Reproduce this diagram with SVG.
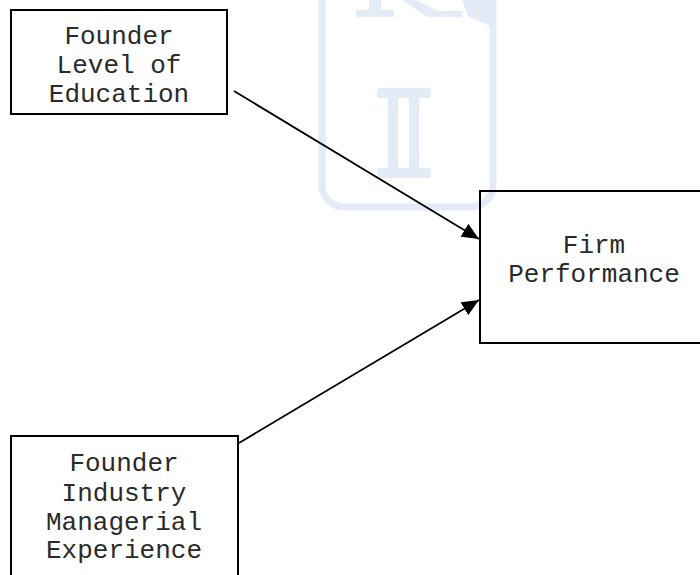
<svg xmlns="http://www.w3.org/2000/svg" width="700" height="575" viewBox="0 0 700 575">
  <style>
    .box { fill: none; stroke: #000; stroke-width: 2; }
    .label { font-family: "Liberation Mono", "Courier New", monospace; font-size: 26px; fill: #2a2a2a; text-anchor: middle; }
    .edge { stroke: #000; stroke-width: 1.8; fill: none; marker-end: url(#arrow); }
    .mark { fill: #e2ebf6; }
  </style>
  <defs>
    <marker id="arrow" markerUnits="userSpaceOnUse" markerWidth="19" markerHeight="15" refX="17" refY="7.5" orient="auto">
      <path d="M0,0 L17,7.5 L0,15 Z" fill="#000"/>
    </marker>
  </defs>

  <rect width="700" height="575" fill="#fff"/>

  <!-- faint background emblem -->
  <g id="emblem">
    <rect x="322" y="-40" width="171" height="247" rx="22" fill="none" stroke="#e2ebf6" stroke-width="7"/>
    <rect class="mark" x="356" y="10" width="38" height="7"/>
    <rect class="mark" x="369" y="0" width="12" height="12"/>
    <polygon class="mark" points="402,0 416,0 438,11 462,11 462,17 428,17"/>
    <polygon class="mark" points="462,0 490,0 490,26 468,16"/>
    <rect class="mark" x="377" y="88" width="54" height="10" rx="3"/>
    <rect class="mark" x="377" y="168" width="54" height="10" rx="3"/>
    <rect class="mark" x="388" y="96" width="10" height="74"/>
    <rect class="mark" x="409" y="96" width="10" height="74"/>
  </g>

  <g id="connectors">
    <line class="edge" x1="234" y1="91" x2="479" y2="239"/>
    <line class="edge" x1="239" y1="443" x2="479" y2="300"/>
  </g>

  <g id="education">
    <rect class="box" x="11" y="10" width="216" height="104"/>
    <text class="label" x="119" y="44">Founder</text>
    <text class="label" x="119" y="73">Level of</text>
    <text class="label" x="119" y="102">Education</text>
  </g>

  <g id="performance">
    <rect class="box" x="480" y="191" width="230" height="152"/>
    <text class="label" x="594" y="253">Firm</text>
    <text class="label" x="594" y="282">Performance</text>
  </g>

  <g id="experience">
    <rect class="box" x="11" y="436" width="227" height="160"/>
    <text class="label" x="124" y="471">Founder</text>
    <text class="label" x="124" y="501">Industry</text>
    <text class="label" x="124" y="530">Managerial</text>
    <text class="label" x="124" y="558">Experience</text>
  </g>
</svg>
